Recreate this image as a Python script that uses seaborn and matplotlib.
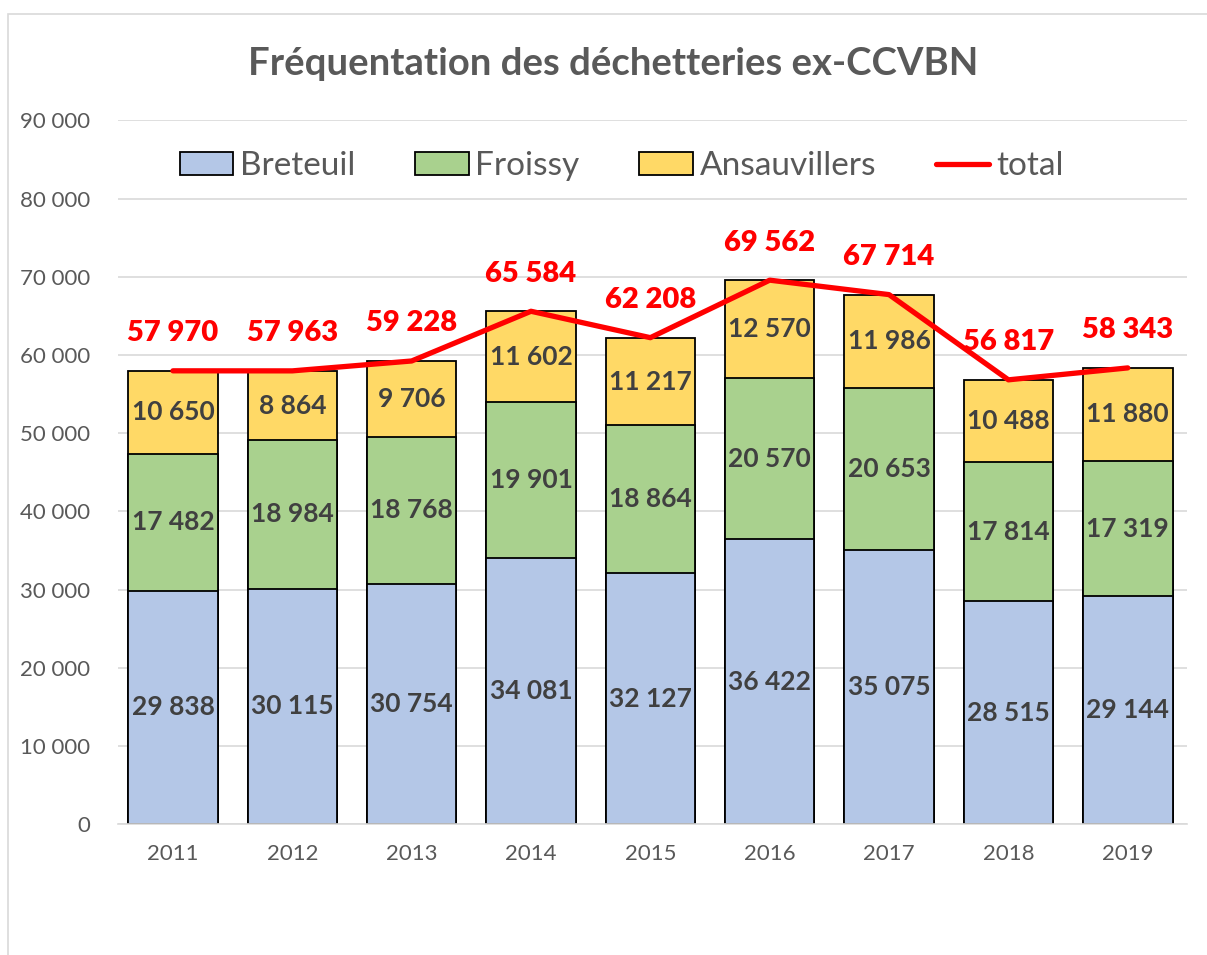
import numpy as np
import pandas as pd
import matplotlib
matplotlib.use("Agg")
import matplotlib.pyplot as plt
import seaborn as sns
from matplotlib.patches import Patch, Rectangle
from matplotlib.lines import Line2D
from matplotlib.ticker import FuncFormatter

# Données de fréquentation par déchetterie
annees = ["2011", "2012", "2013", "2014", "2015", "2016", "2017", "2018", "2019"]
breteuil = [29838, 30115, 30754, 34081, 32127, 36422, 35075, 28515, 29144]
froissy = [17482, 18984, 18768, 19901, 18864, 20570, 20653, 17814, 17319]
ansauvillers = [10650, 8864, 9706, 11602, 11217, 12570, 11986, 10488, 11880]
total = [57970, 57963, 59228, 65584, 62208, 69562, 67714, 56817, 58343]

df = pd.DataFrame({"Annee": annees, "Breteuil": breteuil,
                   "Froissy": froissy, "Ansauvillers": ansauvillers})
df["cum_froissy"] = df["Breteuil"] + df["Froissy"]
df["cum_ansau"] = df["cum_froissy"] + df["Ansauvillers"]

c_bret = "#B4C7E7"
c_froi = "#A9D18E"
c_ansa = "#FFD966"
gris = "#595959"

sns.set_style("white")
plt.rcParams["font.family"] = ["Lato", "DejaVu Sans"]

fig = plt.figure(figsize=(12.07, 9.55), dpi=100)
ax = fig.add_axes([0.0978, 0.137, 0.886, 0.737])

# Cadre du graphique
fig.patches.append(Rectangle((8 / 1207, -0.1), 1.2, 1.1 - 14 / 955,
                             transform=fig.transFigure, fill=False,
                             edgecolor="#D9D9D9", linewidth=1.2, zorder=0))

# Barres empilées (cumuls dessinés du haut vers le bas)
sns.barplot(data=df, x="Annee", y="cum_ansau", color=c_ansa, width=0.75,
            edgecolor="black", linewidth=1.3, saturation=1, ax=ax, zorder=2)
sns.barplot(data=df, x="Annee", y="cum_froissy", color=c_froi, width=0.75,
            edgecolor="black", linewidth=1.3, saturation=1, ax=ax, zorder=2)
sns.barplot(data=df, x="Annee", y="Breteuil", color=c_bret, width=0.75,
            edgecolor="black", linewidth=1.3, saturation=1, ax=ax, zorder=2)

pos = np.arange(len(annees))
sns.lineplot(x=pos, y=total, color="#FF0000", linewidth=3.8, ax=ax, zorder=4)


def fmt(v):
    return f"{int(v):,}".replace(",", " ")


for i in range(len(annees)):
    b, f, a = breteuil[i], froissy[i], ansauvillers[i]
    ax.text(i, b / 2, fmt(b), ha="center", va="center", fontsize=19,
            fontweight="bold", color="#404040", zorder=5)
    ax.text(i, b + f / 2, fmt(f), ha="center", va="center", fontsize=19,
            fontweight="bold", color="#404040", zorder=5)
    ax.text(i, b + f + a / 2, fmt(a), ha="center", va="center", fontsize=19,
            fontweight="bold", color="#404040", zorder=5)
    ax.annotate(fmt(total[i]), (i, total[i]), xytext=(0, 27),
                textcoords="offset points", ha="center", va="center",
                fontsize=21, fontweight="heavy", color="#FF0000", zorder=6)

ax.set_xlim(-0.46, 8.5)
ax.set_ylim(0, 90000)
ax.set_yticks(np.arange(0, 90001, 10000))
ax.yaxis.set_major_formatter(FuncFormatter(lambda v, p: fmt(v)))
ax.grid(axis="y", color="#D9D9D9", linewidth=1.2, zorder=0)
ax.set_axisbelow(True)
for s in ["top", "right", "left"]:
    ax.spines[s].set_visible(False)
ax.spines["bottom"].set_color("#D9D9D9")
ax.spines["bottom"].set_linewidth(1.2)
ax.tick_params(axis="y", length=0, pad=20, labelsize=16, labelcolor=gris)
ax.tick_params(axis="x", length=0, pad=14, labelsize=16, labelcolor=gris)
ax.set_xlabel("")
ax.set_ylabel("")

fig.text(0.508, 0.933, "Fréquentation des déchetteries ex-CCVBN",
         ha="center", va="center", fontsize=27.5, fontweight="bold", color=gris)

handles = [
    Patch(facecolor=c_bret, edgecolor="black", linewidth=1.3, label="Breteuil"),
    Patch(facecolor=c_froi, edgecolor="black", linewidth=1.3, label="Froissy"),
    Patch(facecolor=c_ansa, edgecolor="black", linewidth=1.3, label="Ansauvillers"),
    Line2D([0], [0], color="#FF0000", linewidth=3.8, label="total"),
]
fig.legend(handles=handles, loc="center", bbox_to_anchor=(0.515, 0.826),
           ncol=4, frameon=False, fontsize=24, labelcolor=gris,
           handlelength=1.6, handleheight=0.65, handletextpad=0.2,
           columnspacing=1.8)

fig.savefig("out.png", dpi=100)
